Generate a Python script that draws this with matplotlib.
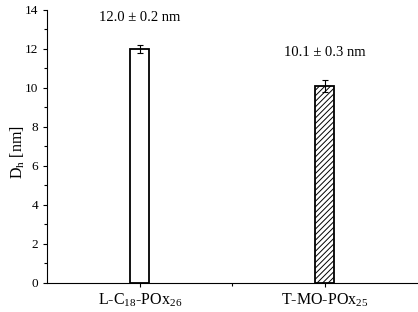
import matplotlib
matplotlib.use('Agg')
from matplotlib import pyplot as plt
from matplotlib.ticker import MultipleLocator

plt.rcParams['font.family'] = ['Liberation Serif', 'DejaVu Serif']
plt.rcParams['mathtext.fontset'] = 'custom'
plt.rcParams['mathtext.rm'] = 'Liberation Serif'
plt.rcParams['mathtext.it'] = 'Liberation Serif'
plt.rcParams['hatch.linewidth'] = 0.7

labels = ['L-C$_{18}$-POx$_{26}$', 'T-MO-POx$_{25}$']
sizes = [12.0, 10.1]
errors = [0.2, 0.3]
notes = ['12.0 ± 0.2 nm', '10.1 ± 0.3 nm']
note_y = [13.6, 11.8]

fig = plt.figure(figsize=(4.18, 3.12), dpi=100)
ax = fig.add_axes([0.113, 0.093, 0.885, 0.875])

pos = [1, 2]
ax.bar(pos[0], sizes[0], width=0.1, color='white', edgecolor='black', linewidth=1.3)
ax.bar(pos[1], sizes[1], width=0.1, color='white', edgecolor='black', linewidth=1.3,
       hatch='//////')
ax.errorbar(pos, sizes, yerr=errors, fmt='none', ecolor='black', elinewidth=0.8,
            capsize=2.5, capthick=0.8)

for x, y, t in zip(pos, note_y, notes):
    ax.text(x, y, t, ha='center', va='center', fontsize=10.5)

ax.set_xlim(0.5, 2.5)
ax.set_ylim(0, 14)
ax.set_xticks(pos)
ax.set_xticklabels(labels, fontsize=11.5)
ax.set_xticks([1.5], minor=True)
ax.yaxis.set_major_locator(MultipleLocator(2))
ax.yaxis.set_minor_locator(MultipleLocator(1))
ax.tick_params(axis='both', which='major', direction='out', length=3, width=0.8)
ax.tick_params(axis='y', which='major', labelsize=9.5)
ax.tick_params(axis='both', which='minor', direction='out', length=2, width=0.8)
ax.set_ylabel('D$_\\mathregular{h}$ [nm]', fontsize=11.5)
ax.yaxis.set_label_coords(-0.055, 0.48)

ax.spines['top'].set_visible(False)
ax.spines['right'].set_visible(False)

fig.savefig('out.png', dpi=100)
